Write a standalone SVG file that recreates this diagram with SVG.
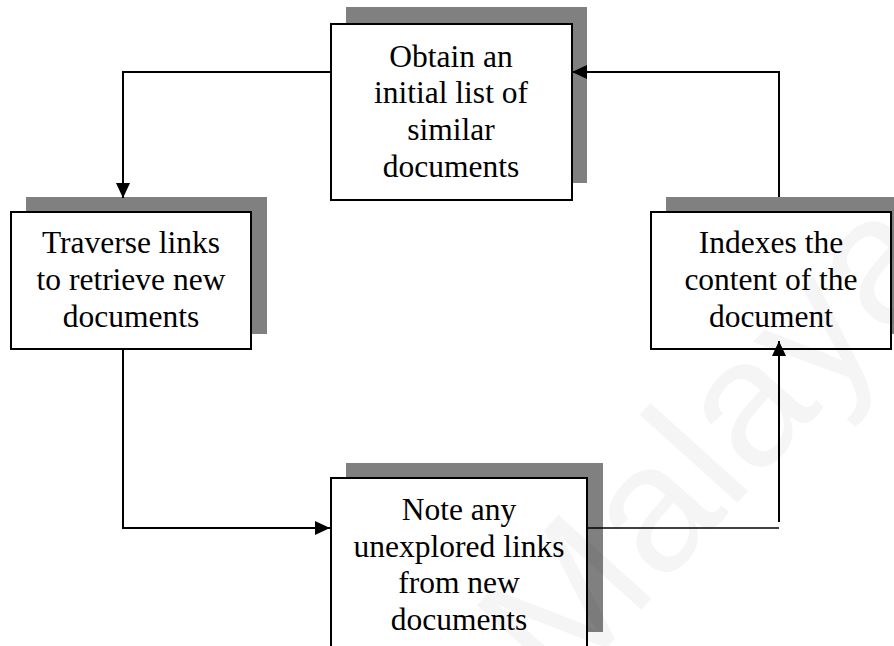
<svg xmlns="http://www.w3.org/2000/svg" width="894" height="646" viewBox="0 0 894 646">
  <defs>
    <marker id="arrow" viewBox="0 0 15 14" refX="15" refY="7" markerWidth="15" markerHeight="14" markerUnits="userSpaceOnUse" orient="auto">
      <path d="M0,0 L15,7 L0,14 z" fill="#000"/>
    </marker>
  </defs>
  <style>
    .shadow { fill: #808080; }
    .box { fill: #fff; stroke: #000; stroke-width: 2; }
    .label { font-family: "Liberation Serif", "Times New Roman", serif; font-size: 31.5px; fill: #000; text-anchor: middle; }
    .wire { fill: none; stroke: #000; stroke-width: 2; }
    .thin { stroke-width: 1.5; }
    .mark { font-family: "Liberation Sans", Arial, sans-serif; font-size: 182px; fill: #000; fill-opacity: 0.04; }
  </style>
  <rect width="894" height="646" fill="#fff"/>

  <g id="obtain">
    <rect class="shadow" x="346" y="7" width="241" height="176"/>
    <rect class="box" x="331" y="24" width="241" height="176"/>
    <text class="label"><tspan x="451" y="66.7">Obtain an</tspan><tspan x="451" y="103.3">initial list of</tspan><tspan x="451" y="140">similar</tspan><tspan x="451" y="176.7">documents</tspan></text>
  </g>

  <g id="traverse">
    <rect class="shadow" x="26" y="197" width="241" height="137"/>
    <rect class="box" x="11" y="212" width="240" height="137"/>
    <text class="label"><tspan x="131" y="253.3">Traverse links</tspan><tspan x="131" y="290">to retrieve new</tspan><tspan x="131" y="326.7">documents</tspan></text>
  </g>

  <g id="indexes">
    <rect class="shadow" x="666" y="197" width="241" height="137"/>
    <rect class="box" x="651" y="212" width="240" height="137"/>
    <text class="label"><tspan x="771" y="253.3">Indexes the</tspan><tspan x="771" y="290">content of the</tspan><tspan x="771" y="326.7">document</tspan></text>
  </g>

  <g id="note">
    <rect class="shadow" x="346" y="463" width="257" height="169"/>
    <rect class="box" x="331" y="478" width="256" height="200"/>
    <text class="label"><tspan x="459" y="520">Note any</tspan><tspan x="459" y="556.7">unexplored links</tspan><tspan x="459" y="593.3">from new</tspan><tspan x="459" y="630">documents</tspan></text>
  </g>

  <g id="connectors">
    <polyline class="wire" points="331,72 123,72 123,198" marker-end="url(#arrow)"/>
    <polyline class="wire" points="123,349 123,528 330,528" marker-end="url(#arrow)"/>
    <line class="wire thin" x1="587" y1="528" x2="779" y2="528"/>
    <line class="wire" x1="779" y1="522" x2="779" y2="341" marker-end="url(#arrow)"/>
    <polyline class="wire" points="779,197 779,72 572,72" marker-end="url(#arrow)"/>
  </g>

  <!-- faint diagonal watermark over the lower right -->
  <text class="mark" transform="translate(560,700) rotate(-48)">Malaya</text>
</svg>
